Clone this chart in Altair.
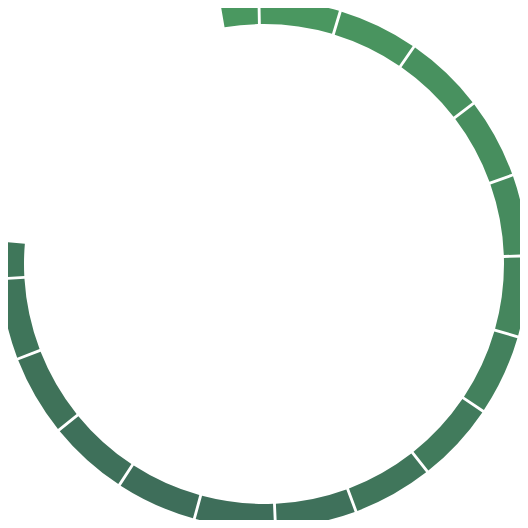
import altair as alt
import pandas as pd

# Segment boundary angles in degrees (clockwise from 12 o'clock)
boundaries = [-9.8, -1.1, 16.8, 34.6, 52.5, 70.3, 88.2, 106.0, 123.9, 141.8,
              159.6, 177.5, 195.3, 213.2, 231.0, 248.9, 266.8, 275.2]
segments = list(range(len(boundaries) - 1))
colors = ["#4a9860", "#4a9760", "#49945f", "#48915f", "#478e5e", "#468b5e",
          "#45865d", "#43815d", "#417b5c", "#40765b", "#3f715b", "#3e6e5a",
          "#3e6e5a", "#3e705a", "#3f7259", "#3f755a", "#3f775a"]

df = pd.DataFrame({
    "seg": segments,
    "start": boundaries[:-1],
    "end": boundaries[1:],
    "color": colors,
})

chart = alt.Chart(df).mark_arc(
    radius=264, radius2=240, padAngle=0.008
).encode(
    theta=alt.Theta("start:Q", scale=alt.Scale(domain=[0, 360], range=[0, 6.283185307179586])),
    theta2="end:Q",
    color=alt.Color("color:N", scale=None),
    x=alt.value(256),
    y=alt.value(256),
).properties(
    width=512, height=512, padding=0,
    autosize=alt.AutoSizeParams(type="none"),
).configure_view(stroke=None)

chart.save("out.html", embed_options={"renderer": "svg", "actions": False})
